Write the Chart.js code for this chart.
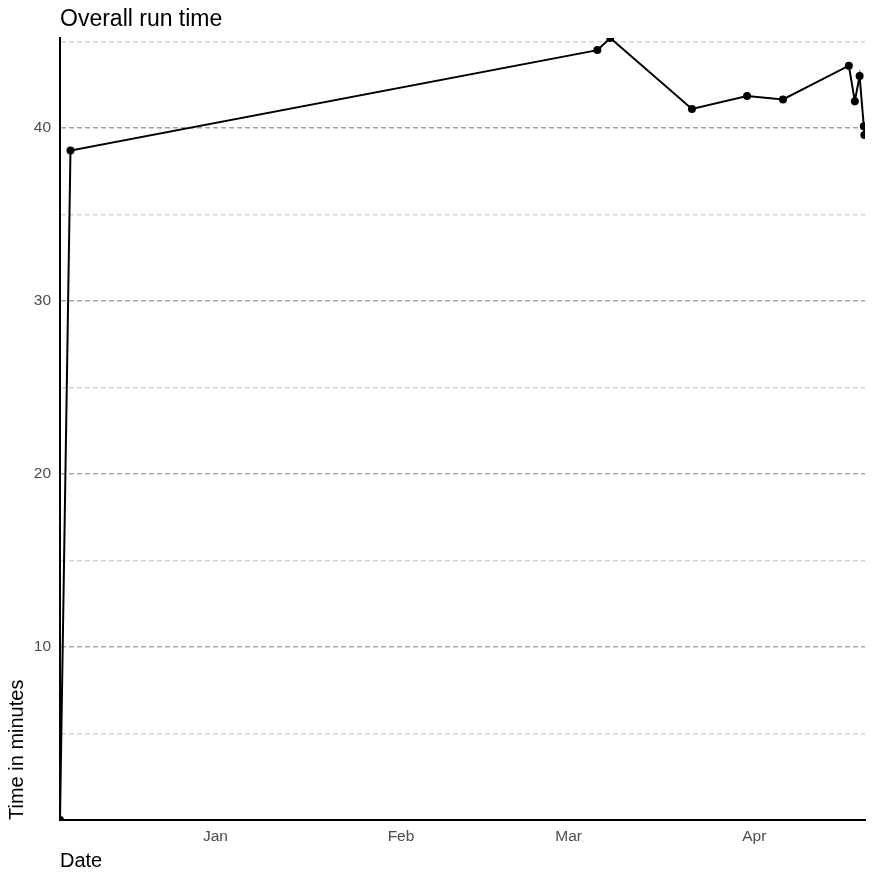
<!DOCTYPE html>
<html>
<head>
<meta charset="utf-8">
<script src="https://cdn.jsdelivr.net/npm/chart.js@4"></script>
<style>
  html, body { margin: 0; padding: 0; background: #fff; }
  #wrap { width: 874px; height: 874px; position: relative; }
</style>
</head>
<body>
<div id="wrap"><canvas id="runChart"></canvas></div>
<script>
// Days counted from 1 January (negative = December of previous year)
const runDays = [-25.95, -24.2, 63.8, 65.95, 79.6, 88.8, 94.8, 105.8, 106.8, 107.6, 108.3, 108.4];
const runMinutes = [0, 38.7, 44.5, 45.2, 41.1, 41.85, 41.65, 43.6, 41.55, 43.0, 40.1, 39.6];

const monthTicks = [0, 31, 59, 90];
const monthLabels = ['Jan', 'Feb', 'Mar', 'Apr'];
const minuteTicks = [5, 10, 15, 20, 25, 30, 35, 40, 45];

const FONT = '"Liberation Sans", Arial, sans-serif';

const points = runDays.map((d, i) => ({ x: d, y: runMinutes[i] }));

new Chart(document.getElementById('runChart'), {
    type: 'line',
    data: {
        datasets: [{
            data: points,
            borderColor: '#000',
            borderWidth: 2,
            pointRadius: 4,
            pointBackgroundColor: '#000',
            pointBorderWidth: 0,
            tension: 0,
            clip: 0
        }]
    },
    options: {
        responsive: true,
        maintainAspectRatio: false,
        animation: false,
        layout: { padding: { left: 0, right: 9, top: 0, bottom: 0 } },
        plugins: {
            legend: { display: false },
            tooltip: { enabled: false },
            title: {
                display: true,
                text: 'Overall run time',
                align: 'start',
                fullSize: false,
                color: '#000',
                font: { family: FONT, size: 23, weight: 'normal' },
                padding: { top: 6, bottom: 4.4 }
            }
        },
        scales: {
            x: {
                type: 'linear',
                min: runDays[0],
                max: 108.5,
                afterBuildTicks: (scale) => {
                    scale.ticks = monthTicks.map(v => ({ value: v }));
                },
                afterFit: (scale) => { scale.height = 54; },
                ticks: {
                    callback: (value) => monthLabels[monthTicks.indexOf(value)],
                    color: '#4d4d4d',
                    font: { family: FONT, size: 15.5 },
                    padding: 7,
                    maxRotation: 0,
                    autoSkip: false
                },
                grid: { display: false, drawTicks: false },
                border: { display: true, color: '#000', width: 2 },
                title: {
                    display: true,
                    text: 'Date',
                    align: 'start',
                    color: '#000',
                    font: { family: FONT, size: 20 },
                    padding: { top: 0, bottom: 1 }
                }
            },
            y: {
                min: 0,
                max: 45.2,
                afterBuildTicks: (scale) => {
                    scale.ticks = minuteTicks.map(v => ({ value: v }));
                },
                afterFit: (scale) => { scale.width = 60; },
                ticks: {
                    callback: (value) => (value % 10 === 0 ? value : ''),
                    color: '#4d4d4d',
                    font: { family: FONT, size: 15.5 },
                    padding: 9
                },
                grid: {
                    drawTicks: false,
                    lineWidth: 1.5,
                    color: (ctx) => (ctx.tick && ctx.tick.value % 10 === 0 ? '#a6a6a6' : '#d6d6d6')
                },
                border: { display: true, color: '#000', width: 2, dash: [5, 3] },
                title: {
                    display: true,
                    text: 'Time in minutes',
                    align: 'start',
                    color: '#000',
                    font: { family: FONT, size: 20 },
                    padding: { top: 5, bottom: 0 }
                }
            }
        }
    }
});
</script>
</body>
</html>
